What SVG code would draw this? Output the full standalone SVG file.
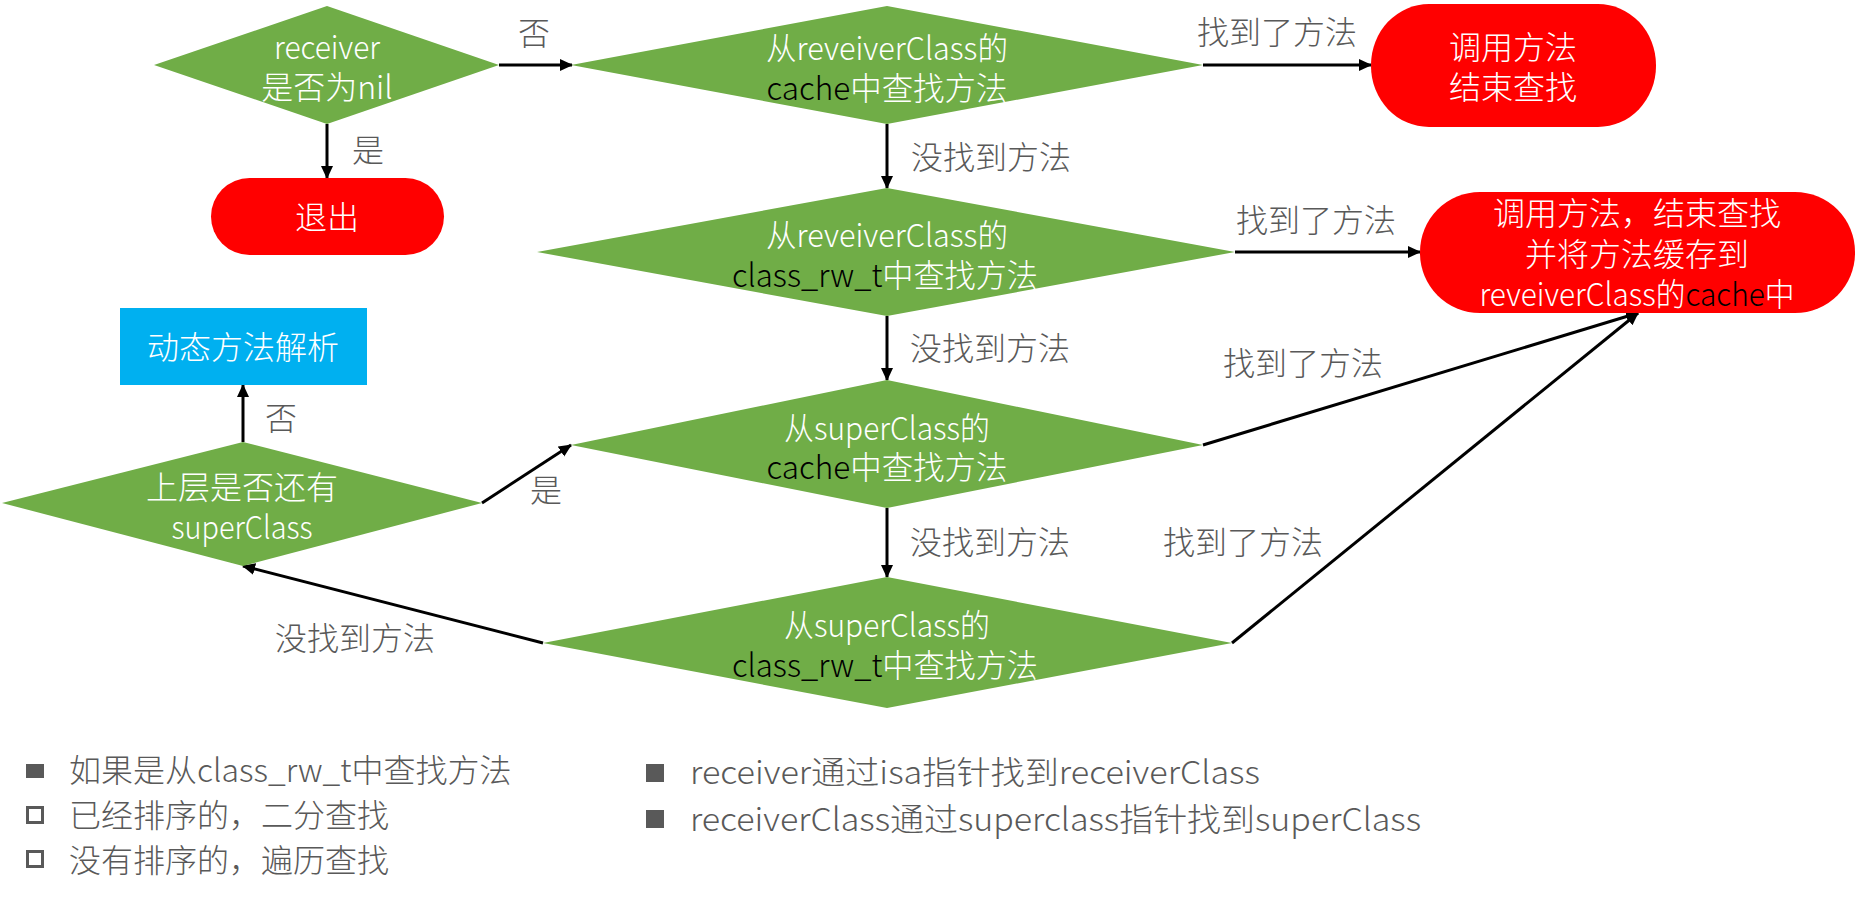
<svg xmlns="http://www.w3.org/2000/svg" width="1856" height="901" viewBox="0 0 1856 901">
<style>
text{font-family:"Noto Sans CJK SC","Liberation Sans",sans-serif;font-size:32px;font-weight:300}
.t{fill:#fff;text-anchor:middle}
.k{fill:#000}
.lbl{fill:#595959}
.dia{fill:#70AD47}
.red{fill:#FF0000}
.conn{stroke:#000;stroke-width:3;fill:none;marker-end:url(#ah)}
.bul{fill:#595959}
</style>
<defs>
<marker id="ah" markerUnits="userSpaceOnUse" markerWidth="14" markerHeight="14" refX="12" refY="6" orient="auto">
<path d="M0,0 L13,6 L0,12 z" fill="#000"/>
</marker>
</defs>
<rect width="1856" height="901" fill="#fff"/>

<g id="connectors">
<line class="conn" x1="499" y1="65" x2="572" y2="65"/>
<line class="conn" x1="327" y1="124" x2="327" y2="178"/>
<line class="conn" x1="1203" y1="65" x2="1371" y2="65"/>
<line class="conn" x1="887" y1="124" x2="887" y2="188"/>
<line class="conn" x1="1235" y1="252" x2="1420" y2="252"/>
<line class="conn" x1="887" y1="316" x2="887" y2="380"/>
<line class="conn" x1="1203" y1="445" x2="1638" y2="313"/>
<line class="conn" x1="887" y1="508" x2="887" y2="577"/>
<line class="conn" x1="1232" y1="643" x2="1638" y2="313"/>
<line class="conn" x1="543" y1="643" x2="243" y2="566"/>
<line class="conn" x1="482" y1="503" x2="571" y2="445"/>
<line class="conn" x1="243" y1="442" x2="243" y2="385"/>
</g>

<g id="labels">
<text class="lbl" x="518" y="45">否</text>
<text class="lbl" x="352" y="162">是</text>
<text class="lbl" x="1197" y="44">找到了方法</text>
<text class="lbl" x="911" y="169">没找到方法</text>
<text class="lbl" x="1236" y="232">找到了方法</text>
<text class="lbl" x="910" y="360">没找到方法</text>
<text class="lbl" x="1223" y="375">找到了方法</text>
<text class="lbl" x="910" y="554">没找到方法</text>
<text class="lbl" x="1163" y="554">找到了方法</text>
<text class="lbl" x="265" y="430">否</text>
<text class="lbl" x="530" y="502">是</text>
<text class="lbl" x="275" y="650">没找到方法</text>
</g>

<g id="receiver-nil">
<polygon class="dia" points="154,65 327,6 499,65 327,124"/>
<text class="t" x="327" y="59" textLength="106" lengthAdjust="spacingAndGlyphs">receiver</text>
<text class="t" x="327" y="99">是否为nil</text>
</g>

<g id="exit">
<rect class="red" x="211" y="178" width="233" height="77" rx="38.5"/>
<text class="t" x="327" y="229">退出</text>
</g>

<g id="class-cache">
<polygon class="dia" points="571,65 887,6 1203,65 887,124"/>
<text class="t" x="887" y="60" textLength="242" lengthAdjust="spacingAndGlyphs">从reveiverClass的</text>
<text class="t" x="887" y="100" textLength="241" lengthAdjust="spacingAndGlyphs"><tspan class="k">cache</tspan>中查找方法</text>
</g>

<g id="call-end">
<rect class="red" x="1371" y="4" width="285" height="123" rx="58" ry="61"/>
<text class="t" x="1513" y="59">调用方法</text>
<text class="t" x="1513" y="99">结束查找</text>
</g>

<g id="class-rw">
<polygon class="dia" points="537,252 887,188 1235,252 887,316"/>
<text class="t" x="887" y="247" textLength="242" lengthAdjust="spacingAndGlyphs">从reveiverClass的</text>
<text class="t" x="885" y="287" textLength="306" lengthAdjust="spacingAndGlyphs"><tspan class="k">class_rw_t</tspan>中查找方法</text>
</g>

<g id="call-cache">
<rect class="red" x="1420" y="192" width="435" height="121" rx="60" ry="60"/>
<text class="t" x="1637" y="225">调用方法，结束查找</text>
<text class="t" x="1637" y="266">并将方法缓存到</text>
<text class="t" x="1637" y="306" textLength="315" lengthAdjust="spacingAndGlyphs">reveiverClass的<tspan class="k">cache</tspan>中</text>
</g>

<g id="super-cache">
<polygon class="dia" points="571,445 887,380 1203,445 887,508"/>
<text class="t" x="887" y="440" textLength="206" lengthAdjust="spacingAndGlyphs">从superClass的</text>
<text class="t" x="887" y="479" textLength="241" lengthAdjust="spacingAndGlyphs"><tspan class="k">cache</tspan>中查找方法</text>
</g>

<g id="super-rw">
<polygon class="dia" points="543,643 887,577 1232,643 887,708"/>
<text class="t" x="887" y="637" textLength="206" lengthAdjust="spacingAndGlyphs">从superClass的</text>
<text class="t" x="885" y="677" textLength="306" lengthAdjust="spacingAndGlyphs"><tspan class="k">class_rw_t</tspan>中查找方法</text>
</g>

<g id="has-super">
<polygon class="dia" points="2,503 243,442 482,503 243,566"/>
<text class="t" x="242" y="499">上层是否还有</text>
<text class="t" x="242" y="539" textLength="141" lengthAdjust="spacingAndGlyphs">superClass</text>
</g>

<g id="dynamic">
<rect x="120" y="308" width="247" height="77" fill="#00B0F0"/>
<text class="t" x="243" y="359">动态方法解析</text>
</g>

<g id="legend">
<rect class="bul" x="26" y="764" width="18" height="14"/>
<text class="lbl" x="69" y="782">如果是从class_rw_t中查找方法</text>
<rect x="27.5" y="807.5" width="15" height="15" fill="none" stroke="#595959" stroke-width="3"/>
<text class="lbl" x="69" y="827">已经排序的，二分查找</text>
<rect x="27.5" y="851.5" width="15" height="15" fill="none" stroke="#595959" stroke-width="3"/>
<text class="lbl" x="69" y="872">没有排序的，遍历查找</text>
<rect class="bul" x="646" y="764" width="18" height="18"/>
<text class="lbl" x="690" y="784" textLength="570" lengthAdjust="spacingAndGlyphs">receiver通过isa指针找到receiverClass</text>
<rect class="bul" x="646" y="810" width="18" height="18"/>
<text class="lbl" x="690" y="831" textLength="731" lengthAdjust="spacingAndGlyphs">receiverClass通过superclass指针找到superClass</text>
</g>
</svg>
